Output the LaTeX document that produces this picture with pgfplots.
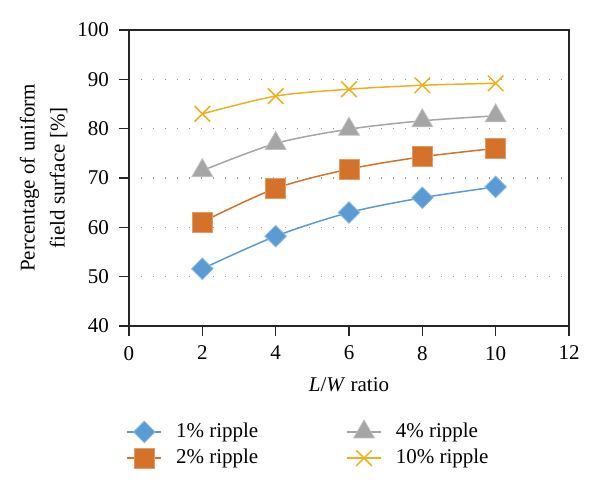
\documentclass[border=0pt]{standalone}
\usepackage{pgfplots}
\pgfplotsset{compat=1.18}
\usepackage{fontspec}
\setmainfont{Liberation Serif}
\definecolor{cblue}{HTML}{5B9BD5}
\definecolor{corange}{HTML}{D4722A}
\definecolor{cgray}{HTML}{A5A5A5}
\definecolor{cyellow}{HTML}{EDB120}
\begin{document}
\begin{tikzpicture}
\path[use as bounding box] (-64.5bp,-81.5bp) rectangle (235.5bp,163bp);
\begin{axis}[
  scale only axis, width=220bp, height=148bp,
  xmin=0, xmax=12, ymin=40, ymax=100,
  xtick={0,2,...,12}, ytick={40,50,...,100},
  axis line style={line width=0.6bp, black!85},
  tick style={line width=0.6bp, black!85},
  tick align=outside, major tick length=5bp,
  xtick pos=bottom, ytick pos=left,
  ymajorgrids, major grid style={gray!80, line width=0.6bp, dash pattern=on 0.6bp off 5.4bp},
  /pgf/number format/assume math mode=true,
  font=\fontsize{10.5bp}{11.5bp}\selectfont,
  tick label style={font=\fontsize{10.5bp}{11.5bp}\selectfont},
  xticklabel style={yshift=-1.5bp},
  yticklabel style={xshift=-1.5bp},
  xlabel={\textit{L}/\textit{W} ratio},
  ylabel={Percentage of uniform\\[3.5bp]field surface [\%]},
  ylabel style={align=center, at={(axis description cs:-0.194,0.5)}, anchor=center, font=\fontsize{10.5bp}{11.5bp}\selectfont},
  xlabel style={at={(axis description cs:0.5,-0.199)}, anchor=center},
  legend columns=2,
  transpose legend,
  legend cell align=left,
  legend style={draw=none, fill=none, at={(axis description cs:-0.02,-0.30)}, anchor=north west,
    font=\fontsize{10.5bp}{11.5bp}\selectfont, row sep=0.3bp,
    /tikz/every odd column/.append style={column sep=5bp},
    /tikz/every even column/.append style={column sep=42bp}},
  every axis plot/.append style={line width=0.75bp, smooth},
]
\addplot[color=cblue, mark=square*, mark size=3.8bp, mark options={rotate=45, fill=cblue, draw=cblue!70!white, line width=0.4bp}]
  coordinates {(2,51.6) (4,58.2) (6,63.0) (8,66.0) (10,68.2)};
\addlegendentry{1\% ripple}
\addplot[color=corange, mark=square*, mark size=5bp, mark options={fill=corange, draw=corange!70!white, line width=0.4bp}]
  coordinates {(2,61.1) (4,67.9) (6,71.8) (8,74.3) (10,76.0)};
\addlegendentry{2\% ripple}
\addplot[color=cgray, mark=triangle*, mark size=6bp, mark options={fill=cgray, draw=cgray!70!white, line width=0.4bp}]
  coordinates {(2,71.5) (4,77.0) (6,79.9) (8,81.6) (10,82.6)};
\addlegendentry{4\% ripple}
\addplot[color=cyellow, mark=x, mark size=5.5bp, mark options={line width=0.75bp}]
  coordinates {(2,83.0) (4,86.6) (6,88.0) (8,88.8) (10,89.2)};
\addlegendentry{10\% ripple}
\end{axis}
\end{tikzpicture}
\end{document}
